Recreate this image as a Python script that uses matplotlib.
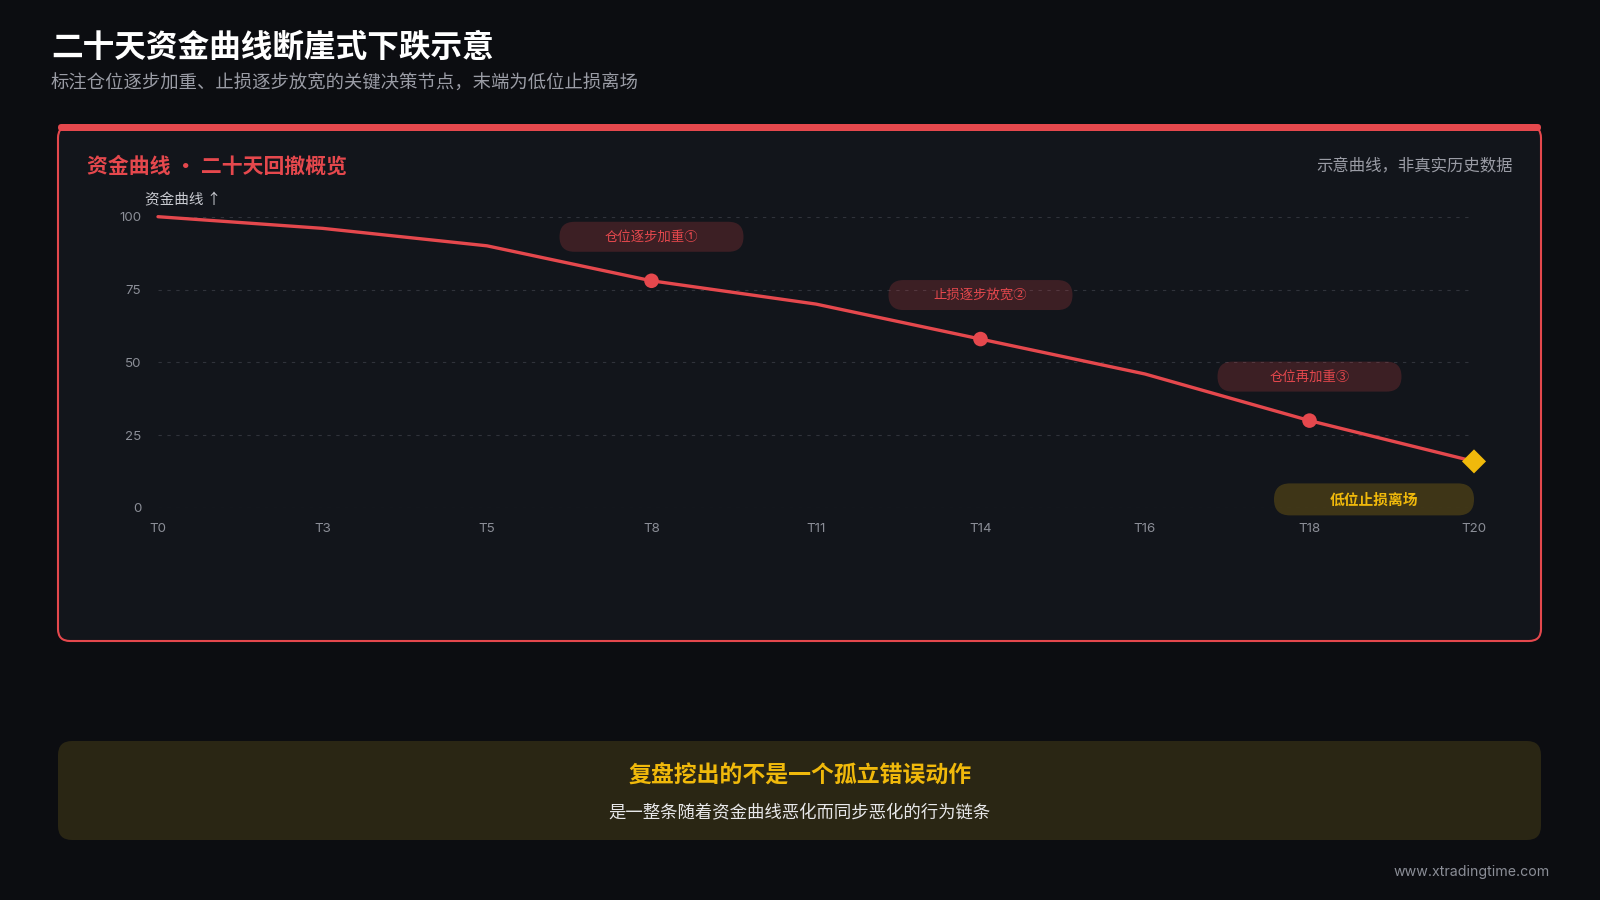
import matplotlib
matplotlib.use("Agg")
import matplotlib.pyplot as plt
from matplotlib.patches import FancyBboxPatch
from matplotlib.transforms import Affine2D

plt.rcParams['font.family'] = ['Noto Sans CJK SC', 'DejaVu Sans']

# data
days = ["T0", "T3", "T5", "T8", "T11", "T14", "T16", "T18", "T20"]
equity = [100, 96, 90, 78, 70, 58, 46, 30, 16]
key_days = ["T8", "T14", "T18"]
key_labels = ["仓位逐步加重①", "止损逐步放宽②", "仓位再加重③"]
exit_day = "T20"
exit_label = "低位止损离场"
y_ticks = [0, 25, 50, 75, 100]

# colours
BG = "#0c0d11"
CARD = "#12151b"
RED = "#e5484d"
YEL = "#f0b90b"
BOX = "#2a2614"
GRID = "#30333b"
TICK = "#8b8e97"

W, H = 1600, 900
fig = plt.figure(figsize=(16, 9), dpi=100, facecolor=BG)

# pixel transform, origin top-left
px = Affine2D().scale(1 / 100, -1 / 100).translate(0, 9) + fig.dpi_scale_trans

def fx(x):
    return x / W

def fy(y):
    return 1 - y / H

# header
fig.text(fx(51), fy(48), "二十天资金曲线断崖式下跌示意", color="white", fontsize=22.8,
         fontweight="bold", va="center", ha="left")
fig.text(fx(51), fy(84), "标注仓位逐步加重、止损逐步放宽的关键决策节点，末端为低位止损离场",
         color="#9a9ca5", fontsize=13.2, va="center", ha="left")

# chart card
card = FancyBboxPatch((58, 126), 1483, 515, boxstyle="round,pad=0,rounding_size=12",
                      transform=px, facecolor=CARD, edgecolor=RED, linewidth=1.5, zorder=0)
fig.patches.append(card)
topbar = FancyBboxPatch((58, 124), 1483, 7, boxstyle="round,pad=0,rounding_size=3.5",
                        transform=px, facecolor=RED, edgecolor="none", zorder=1)
fig.patches.append(topbar)

fig.text(fx(87), fy(166), "资金曲线 · 二十天回撤概览", color=RED, fontsize=15,
         fontweight="bold", va="center", ha="left")
fig.text(fx(1513), fy(166), "示意曲线，非真实历史数据", color="#9a9ca5", fontsize=11.8,
         va="center", ha="right")

# axes
ax = fig.add_axes([fx(158), fy(508), (1474 - 158) / W, (508 - 216.7) / H])
ax.set_zorder(2)
ax.set_facecolor("none")
x = list(range(len(days)))
ax.plot(x, equity, color=RED, linewidth=2.4, solid_capstyle="round", clip_on=False, zorder=3)
ax.set_xlim(0, len(days) - 1)
ax.set_ylim(0, 100)
ax.set_xticks(x)
ax.set_xticklabels(days, family=["Inter", "DejaVu Sans"])
ax.set_yticks(y_ticks)
ax.set_yticklabels([str(t) for t in y_ticks], family=["Inter", "DejaVu Sans"])
ax.tick_params(axis="both", length=0, colors=TICK, labelsize=9.6)
ax.tick_params(axis="x", pad=11)
ax.tick_params(axis="y", pad=12)
for s in ax.spines.values():
    s.set_visible(False)
ax.grid(axis="y", color=GRID, linestyle=(0, (3, 5)), linewidth=0.8)
ax.set_axisbelow(True)
fig.text(fx(145), fy(200), "资金曲线 ↑", color="#c9cbd1", fontsize=10.5, va="center", ha="left")

# key markers
kx = [days.index(d) for d in key_days]
ky = [equity[i] for i in kx]
ax.scatter(kx, ky, s=110, color=RED, zorder=4, clip_on=False, edgecolors="none")
ex = days.index(exit_day)
ax.scatter([ex], [equity[ex]], s=150, marker="D", color=YEL, zorder=5, clip_on=False,
           edgecolors="none")

def to_px(xv, yv):
    d = ax.transData.transform((xv, yv))
    inch = fig.dpi_scale_trans.inverted().transform(d)
    return inch[0] * 100, 900 - inch[1] * 100

# pills
pw, ph = 184, 30
for i, v, lab in zip(kx, ky, key_labels):
    cx, cy = to_px(i, v)
    cy -= 44
    pill = FancyBboxPatch((cx - pw / 2, cy - ph / 2), pw, ph,
                          boxstyle="round,pad=0,rounding_size=15", transform=px,
                          facecolor=RED, alpha=0.2, edgecolor="none", zorder=6)
    fig.patches.append(pill)
    fig.text(fx(cx), fy(cy), lab, color=RED, fontsize=9.6, fontweight="medium",
             ha="center", va="center", zorder=7)

ex_px, ey_px = to_px(ex, equity[ex])
yw, yh = 200, 32
ycx, ycy = ex_px - yw / 2, ey_px + 38
ypill = FancyBboxPatch((ycx - yw / 2, ycy - yh / 2), yw, yh,
                       boxstyle="round,pad=0,rounding_size=16", transform=px,
                       facecolor=YEL, alpha=0.2, edgecolor="none", zorder=6)
fig.patches.append(ypill)
fig.text(fx(ycx), fy(ycy), exit_label, color=YEL, fontsize=10.6, fontweight="bold",
         ha="center", va="center", zorder=7)

# bottom box
box = FancyBboxPatch((58, 741), 1483, 99, boxstyle="round,pad=0,rounding_size=14",
                     transform=px, facecolor=BOX, edgecolor="none", zorder=0)
fig.patches.append(box)
fig.text(0.5, fy(776), "复盘挖出的不是一个孤立错误动作", color=YEL, fontsize=16.5,
         fontweight="bold", ha="center", va="center")
fig.text(0.5, fy(812), "是一整条随着资金曲线恶化而同步恶化的行为链条", color="#e8e8ea",
         fontsize=12.5, ha="center", va="center")

# footer
fig.text(fx(1550), fy(872), "www.xtradingtime.com", color="#8b8e97", fontsize=10.2,
         family=["Inter", "DejaVu Sans"], ha="right", va="center")

fig.savefig("out.png", dpi=100, facecolor=BG)
